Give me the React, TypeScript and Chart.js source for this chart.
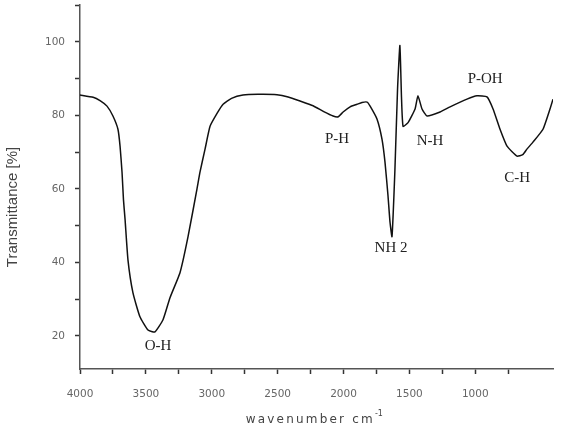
import React, { useEffect, useRef } from 'react';
import { Chart, registerables } from 'chart.js';

Chart.register(...registerables);

// Wavenumber (cm^-1) of each traced point, descending
const wavenumbers = [
  4000, 3900, 3848, 3795, 3750, 3712, 3696, 3681, 3670, 3658, 3636, 3598, 3545, 3484, 3431,
  3370, 3317, 3241, 3180, 3112, 3089, 3051, 3013, 2960, 2914, 2850, 2763, 2650, 2505, 2420,
  2330, 2231, 2150, 2079, 2040, 2003, 1950, 1897, 1860, 1821, 1798, 1746, 1708, 1685, 1662,
  1647, 1632, 1610, 1590, 1572, 1560, 1548, 1510, 1457, 1435, 1404, 1366, 1267, 1191, 1063,
  987, 911, 865, 812, 759, 683, 640, 608, 562, 486, 433, 410,
];
// Transmittance (%) of each traced point
const transmittance = [
  85.5, 84.9, 84.0, 82.5, 79.8, 76.2, 71.6, 64.5, 57.0, 51.7, 40.7, 31.7, 25.2, 21.6, 21.1,
  24.4, 30.4, 37.2, 47.0, 60.0, 64.6, 70.8, 77.0, 80.5, 83.0, 84.6, 85.5, 85.7, 85.6, 85.0,
  83.9, 82.6, 81.0, 79.8, 79.6, 80.9, 82.3, 83.0, 83.5, 83.6, 82.5, 79.0, 73.5, 67.2, 58.0,
  50.9, 47.0, 65.0, 87.0, 99.0, 85.0, 77.0, 78.0, 81.7, 85.3, 81.7, 79.8, 80.9, 82.3, 84.4,
  85.3, 85.0, 81.7, 76.2, 71.6, 68.9, 69.3, 70.8, 72.7, 76.2, 81.7, 84.4,
];

const peakLabels = ['O-H', 'P-H', 'NH 2', 'N-H', 'P-OH', 'C-H'];
const peakLabelWavenumbers = [3408, 2049, 1639, 1343, 925, 682];
const peakLabelTransmittance = [17.3, 73.5, 44.0, 73.0, 89.9, 62.9];

const xLabelStep = 500;
const yLabelStep = 20;
const xTitle = 'wavenumber cm';
const xTitleSup = '-1';
const yTitle = 'Transmittance [%]';

export default function App() {
  const canvasRef = useRef<HTMLCanvasElement | null>(null);

  useEffect(() => {
    document.body.style.margin = '0';
    const canvas = canvasRef.current;
    if (!canvas) return;

    const labelPlugin = {
      id: 'peakLabels',
      afterDatasetsDraw(chart: any) {
        const { ctx, scales } = chart;
        ctx.save();
        ctx.font = '15px "Liberation Serif", serif';
        ctx.fillStyle = '#222';
        ctx.textAlign = 'center';
        ctx.textBaseline = 'middle';
        peakLabels.forEach((t, i) => {
          const x = scales.x.getPixelForValue(peakLabelWavenumbers[i]);
          const y = scales.y.getPixelForValue(peakLabelTransmittance[i]);
          ctx.fillText(t, x, y);
        });
        ctx.restore();
      },
    };

    const titlePlugin = {
      id: 'axisTitles',
      afterDraw(chart: any) {
        const { ctx, chartArea } = chart;
        ctx.save();
        ctx.fillStyle = '#444';
        // x title
        ctx.font = '12px "DejaVu Sans", sans-serif';
        (ctx as any).letterSpacing = '2.2px';
        const w = ctx.measureText(xTitle).width;
        ctx.font = '8px "DejaVu Sans", sans-serif';
        const ws = ctx.measureText(xTitleSup).width;
        const cx = (chartArea.left + chartArea.right) / 2;
        const startX = cx - (w + ws) / 2;
        ctx.textBaseline = 'middle';
        ctx.textAlign = 'left';
        ctx.font = '12px "DejaVu Sans", sans-serif';
        ctx.fillText(xTitle, startX, 420);
        (ctx as any).letterSpacing = '0px';
        ctx.font = '8px "DejaVu Sans", sans-serif';
        ctx.fillText(xTitleSup, startX + w, 414);
        // y title
        ctx.translate(13, 207);
        ctx.rotate(-Math.PI / 2);
        ctx.textAlign = 'center';
        ctx.font = '15px "Liberation Sans", Arial, sans-serif';
        ctx.fillText(yTitle, 0, 0);
        ctx.restore();
      },
    };

    const chart = new Chart(canvas, {
      type: 'line',
      data: {
        datasets: [
          {
            data: wavenumbers.map((w, i) => ({ x: w, y: transmittance[i] })),
            borderColor: '#111',
            borderWidth: 1.5,
            pointRadius: 0,
            tension: 0.15,
            fill: false,
          },
        ],
      },
      options: {
        animation: false,
        responsive: false,
        maintainAspectRatio: false,
        layout: { padding: { top: 5, right: 8, left: 0, bottom: 0 } },
        plugins: {
          legend: { display: false },
          tooltip: { enabled: false },
        },
        scales: {
          x: {
            type: 'linear',
            reverse: true,
            min: 410,
            max: 4000,
            afterBuildTicks: (scale: any) => {
              scale.ticks = scale.ticks.filter((t: any) => t.value % 250 === 0);
            },
            afterFit: (scale: any) => {
              scale.height = 65;
              scale.paddingLeft = 0;
              scale.paddingRight = 0;
            },
            border: { display: true, color: '#555', width: 1.5 },
            grid: {
              display: true,
              drawOnChartArea: false,
              drawTicks: true,
              tickLength: 5,
              tickColor: '#333',
              tickWidth: 1.5,
            },
            ticks: {
              stepSize: 250,
              autoSkip: false,
              maxRotation: 0,
              padding: 14,
              color: '#666',
              font: { family: '"DejaVu Sans", sans-serif', size: 10.5 },
              callback: (v: any) => (v % xLabelStep === 0 ? String(v) : ''),
            },
          },
          y: {
            type: 'linear',
            min: 11,
            max: 110,
            afterBuildTicks: (scale: any) => {
              scale.ticks = scale.ticks.filter((t: any) => t.value % 10 === 0);
            },
            afterFit: (scale: any) => {
              scale.width = 80;
              scale.paddingTop = 0;
              scale.paddingBottom = 0;
            },
            border: { display: true, color: '#555', width: 1.5 },
            grid: {
              display: true,
              drawOnChartArea: false,
              drawTicks: true,
              tickLength: 5,
              tickColor: '#333',
              tickWidth: 1.5,
            },
            ticks: {
              stepSize: 10,
              autoSkip: false,
              padding: 10,
              color: '#666',
              font: { family: '"DejaVu Sans", sans-serif', size: 10.5 },
              callback: (v: any) => (v % yLabelStep === 0 && v <= 100 ? String(v) : ''),
            },
          },
        },
      },
      plugins: [labelPlugin, titlePlugin],
    } as any);

    return () => chart.destroy();
  }, []);

  return (
    <div style={{ position: 'relative', width: 561, height: 434, background: '#fff' }}>
      <canvas ref={canvasRef} width={561} height={434} />
    </div>
  );
}
